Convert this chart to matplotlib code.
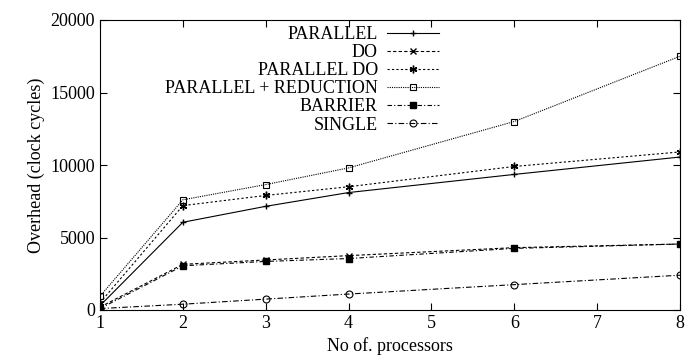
import matplotlib.pyplot as plt

plt.rcParams['font.family'] = ['Liberation Serif', 'DejaVu Serif']

procs = [1, 2, 3, 4, 6, 8]
parallel = [300, 6050, 7150, 8100, 9350, 10550]
do = [200, 3150, 3450, 3750, 4300, 4550]
parallel_do = [500, 7200, 7900, 8500, 9900, 10900]
par_reduction = [950, 7600, 8650, 9800, 13000, 17500]
barrier = [100, 3050, 3350, 3550, 4250, 4550]
single = [100, 400, 750, 1100, 1750, 2400]

fig = plt.figure(figsize=(6.94, 3.63), dpi=100)
ax = fig.add_axes([100 / 694, 53 / 363, 580 / 694, 290 / 363])

lw = 0.8
ax.plot(procs, parallel, color='black', lw=lw, ls='-', marker='+', ms=5, label='PARALLEL')
ax.plot(procs, do, color='black', lw=lw, ls=(0, (3, 2)), marker='x', ms=4, label='DO')
ax.plot(procs, parallel_do, color='black', lw=lw, ls=(0, (2, 2)), marker=(6, 2, 0), ms=5.5, label='PARALLEL DO')
ax.plot(procs, par_reduction, color='black', lw=lw, ls=(0, (1, 1)), marker='s', ms=5,
        mfc='none', mew=0.8, label='PARALLEL + REDUCTION')
ax.plot(procs, barrier, color='black', lw=lw, ls=(0, (4, 2, 1, 2)), marker='s', ms=5, label='BARRIER')
ax.plot(procs, single, color='black', lw=lw, ls=(0, (5, 2, 1, 2)), marker='o', ms=5,
        mfc='none', mew=0.8, label='SINGLE')

ax.set_xlim(1, 8)
ax.set_ylim(0, 20000)
ax.set_xticks(range(1, 9))
ax.set_yticks([0, 5000, 10000, 15000, 20000])
ax.tick_params(direction='in', top=True, right=True, labelsize=13, length=5)
ax.set_xlabel('No of. processors', fontsize=13)
ax.set_ylabel('Overhead (clock cycles)', fontsize=13)

leg = ax.legend(loc='upper right', bbox_to_anchor=(0.613, 1.035), frameon=False, markerfirst=False,
                fontsize=13, handlelength=2.9, labelspacing=0.06, handletextpad=0.5)
leg._legend_box.align = 'right'

fig.savefig('out.png', dpi=100)
